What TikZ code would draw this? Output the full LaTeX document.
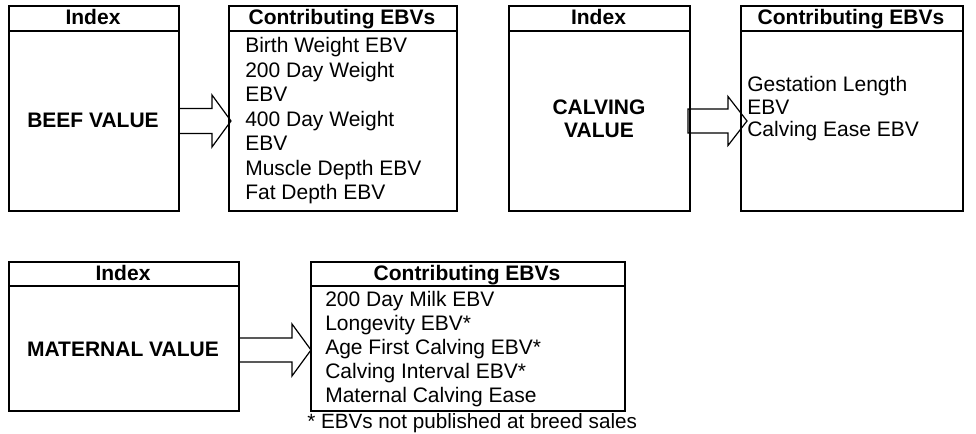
\documentclass[tikz,border=0pt]{standalone}
\usepackage{fontspec}
\setmainfont{Liberation Sans}
\usetikzlibrary{calc}
\newdimen\pxu
\pxu=0.75pt
\begin{document}
\begin{tikzpicture}[x=0.75pt,y=-0.75pt,
  box/.style={draw, line width=1.5pt, inner sep=0pt, anchor=north west},
  hdr/.style={font=\fontsize{15.75}{18}\selectfont\bfseries, inner sep=0pt, anchor=base},
  ttl/.style={font=\fontsize{15.75}{18}\selectfont\bfseries, inner sep=0pt, anchor=base},
  body/.style={font=\fontsize{15.75}{18}\selectfont, inner sep=0pt, anchor=base west},
  note/.style={font=\fontsize{15.5}{18}\selectfont, inner sep=0pt, anchor=base west},
  blockarrow/.style={draw, line width=0.9pt, line join=miter}
]
\useasboundingbox (0,0) rectangle (976,434);

% boxes
\node[box, minimum width=170\pxu, minimum height=205\pxu] (b1) at (8,5) {};
\node[box, minimum width=228\pxu, minimum height=205\pxu] (b2) at (228,5) {};
\node[box, minimum width=181\pxu, minimum height=205\pxu] (b3) at (508,5) {};
\node[box, minimum width=222\pxu, minimum height=205\pxu] (b4) at (740,5) {};
\node[box, minimum width=230\pxu, minimum height=149\pxu] (b5) at (8,261) {};
\node[box, minimum width=314\pxu, minimum height=149\pxu] (b6) at (310,261) {};

% header separators
\foreach \b in {b1,b2,b3,b4}
  \draw[line width=1.5pt] ($(\b.north west)+(0,26)$) -- ($(\b.north east)+(0,26)$);
\foreach \b in {b5,b6}
  \draw[line width=1.5pt] ($(\b.north west)+(0,25)$) -- ($(\b.north east)+(0,25)$);

% headers
\node[hdr] (h1) at (93,25) {Index};
\node[hdr] (h2) at (342,25) {Contributing EBVs};
\node[hdr] (h3) at (598.5,25) {Index};
\node[hdr] (h4) at (851,25) {Contributing EBVs};
\node[hdr] (h5) at (123,281) {Index};
\node[hdr] (h6) at (467,281) {Contributing EBVs};

% index titles
\node[ttl] (t1) at (93,128) {BEEF VALUE};
\node[ttl] (t3a) at (599,115) {CALVING};
\node[ttl] (t3b) at (599,137.5) {VALUE};
\node[ttl] (t5) at (123,356.7) {MATERNAL VALUE};

% contributing lists
\foreach \t [count=\i] in {Birth Weight EBV,200 Day Weight,EBV,400 Day Weight,EBV,Muscle Depth EBV,Fat Depth EBV}
  \node[body] (l2\i) at (245,{52.7+24.55*(\i-1)}) {\t};
\foreach \t [count=\i] in {Gestation Length,EBV,Calving Ease EBV}
  \node[body] (l4\i) at (747,{92+22.5*(\i-1)}) {\t};
\foreach \t [count=\i] in {200 Day Milk EBV,Longevity EBV*,Age First Calving EBV*,Calving Interval EBV*,Maternal Calving Ease}
  \node[body] (l6\i) at (325,{306.7+24*(\i-1)}) {\t};

\node[note] (fn) at (307,429) {* EBVs not published at breed sales};

% block arrows
\coordinate (a1s) at (b1.east |- 0,121);
\coordinate (a1t) at ($(b2.west |- 0,121)+(3,0)$);
\draw[blockarrow] ($(a1s)+(0,-12.5)$) -- ($(a1t)+(-19,-12.5)$) -- ($(a1t)+(-19,-26)$) -- (a1t)
  -- ($(a1t)+(-19,26)$) -- ($(a1t)+(-19,12.5)$) -- ($(a1s)+(0,12.5)$);

\coordinate (a2s) at ($(b3.east |- 0,121)+(-3,0)$);
\coordinate (a2t) at ($(b4.west |- 0,121)+(7,0)$);
\draw[blockarrow] ($(a2s)+(0,-12)$) -- ($(a2t)+(-19,-12)$) -- ($(a2t)+(-19,-24.5)$) -- (a2t)
  -- ($(a2t)+(-19,24.5)$) -- ($(a2t)+(-19,12)$) -- ($(a2s)+(0,12)$) -- cycle;

\coordinate (a3s) at (b5.east |- 0,350);
\coordinate (a3t) at ($(b6.west |- 0,350)+(1,0)$);
\draw[blockarrow] ($(a3s)+(0,-12)$) -- ($(a3t)+(-19,-12)$) -- ($(a3t)+(-19,-26)$) -- (a3t)
  -- ($(a3t)+(-19,26)$) -- ($(a3t)+(-19,12)$) -- ($(a3s)+(0,12)$);
\end{tikzpicture}
\end{document}
